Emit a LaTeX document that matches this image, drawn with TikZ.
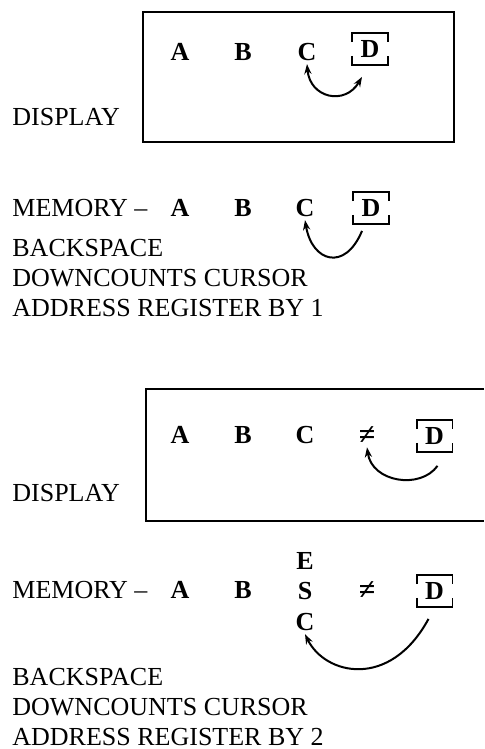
\documentclass[tikz,border=0pt]{standalone}
\usepackage{fontspec}
\setmainfont{Liberation Serif}
\usetikzlibrary{arrows.meta}
\newcommand{\cursorbrk}[1]{%
  \draw[line width=0.9pt] ([yshift=-4.5pt]#1.north west) -- (#1.north west) -- (#1.north east) -- ([yshift=-4.5pt]#1.north east);
  \draw[line width=0.9pt] ([yshift=4.5pt]#1.south west) -- (#1.south west) -- (#1.south east) -- ([yshift=4.5pt]#1.south east);}
\begin{document}
\begin{tikzpicture}[x=0.5pt,y=-0.5pt,>={Stealth[length=5pt,width=3.6pt]},
  every node/.style={font=\fontsize{13}{15}\selectfont},
  txt/.style={anchor=west, align=left, inner sep=0pt},
  letter/.style={font=\fontsize{13}{15}\selectfont\bfseries, inner sep=1.5pt},
  noteq/.style={font=\fontsize{15}{15}\selectfont\bfseries, inner sep=1pt},
  cursor/.style={letter, minimum width=17.5pt, minimum height=15.5pt, inner sep=0pt},
  backarrow/.style={<-, line width=1pt}]
\useasboundingbox (0,0) rectangle (484,749);

% first display
\draw[line width=0.9pt] (143,12) rectangle (454,142);
\node[txt] (disp1) at (12,117) {DISPLAY};
\node[letter] (a1) at (180,52) {A};
\node[letter] (b1) at (243,52) {B};
\node[letter] (c1) at (307,52) {C};
\node[cursor] (d1) at (370,49) {D};
\cursorbrk{d1}
\draw[<->, line width=1pt] (c1.south) .. controls (310,98) and (345,106) .. ([shift={(-8,12)}]d1.south);

% first memory
\node[txt] (mem1) at (12,208) {MEMORY --};
\node[letter] (a2) at (180,208) {A};
\node[letter] (b2) at (243,208) {B};
\node[letter] (c2) at (305,208) {C};
\node[cursor] (d2) at (371,208) {D};
\cursorbrk{d2}
\draw[backarrow] (c2.south) .. controls (312,262) and (345,272) .. ([shift={(-9,7)}]d2.south);
\node[txt] (bs1) at (12,278) {BACKSPACE\\DOWNCOUNTS CURSOR\\ADDRESS REGISTER BY 1};

% second display
\draw[line width=0.9pt] (484,389) -- (146,389) -- (146,521) -- (484,521);
\node[txt] (disp2) at (12,493) {DISPLAY};
\node[letter] (a3) at (180,435) {A};
\node[letter] (b3) at (243,435) {B};
\node[letter] (c3) at (305,435) {C};
\node[noteq] (ne3) at (367,436) {≠};
\node[cursor] (d3) at (434.5,436) {D};
\cursorbrk{d3}
\draw[backarrow] (ne3.south) .. controls (372,482) and (420,490) .. ([shift={(3,14)}]d3.south);

% second memory
\node[txt] (mem2) at (12,590) {MEMORY --};
\node[letter] (a4) at (180,590) {A};
\node[letter] (b4) at (243,590) {B};
\node[letter] (e4) at (305,561) {E};
\node[letter] (s4) at (305,591) {S};
\node[letter] (c4) at (305,622) {C};
\node[noteq] (ne4) at (367,591) {≠};
\node[cursor] (d4) at (434.5,591) {D};
\cursorbrk{d4}
\draw[backarrow] (c4.south) .. controls (325,675) and (390,690) .. ([shift={(-6,12)}]d4.south);
\node[txt] (bs2) at (12,707) {BACKSPACE\\DOWNCOUNTS CURSOR\\ADDRESS REGISTER BY 2};
\end{tikzpicture}
\end{document}
